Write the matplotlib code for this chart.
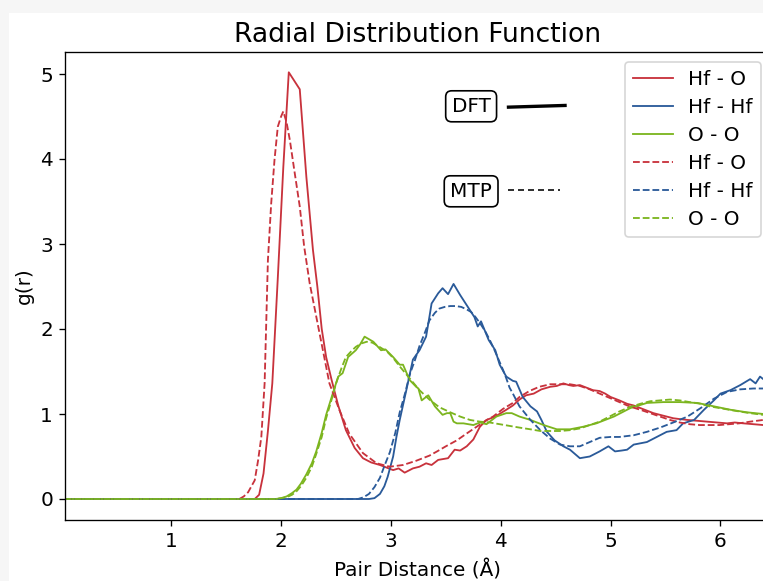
import matplotlib
matplotlib.use("Agg")
import matplotlib.pyplot as plt
from matplotlib.patches import Rectangle

# ====================================
# DATA
# ====================================

# DFT, Hf - O
r_hfo_dft = [0.03, 1.76, 1.80, 1.84, 1.88, 1.92, 1.97, 2.02, 2.07, 2.17, 2.23, 2.29,
             2.33, 2.37, 2.41, 2.46, 2.52, 2.59, 2.67, 2.745, 2.82, 2.90, 2.96, 3.02,
             3.07, 3.125, 3.20, 3.26, 3.32, 3.37, 3.43, 3.52, 3.58, 3.63, 3.69, 3.75,
             3.81, 3.87, 3.95, 4.05, 4.11, 4.17, 4.23, 4.30, 4.37, 4.45, 4.51, 4.57,
             4.62, 4.66, 4.72, 4.78, 4.84, 4.90, 4.95, 5.00, 5.08, 5.15, 5.21, 5.27,
             5.33, 5.39, 5.48, 5.57, 5.63, 5.70, 5.79, 5.88, 5.97, 6.06, 6.13, 6.21,
             6.30, 6.39, 6.47]
g_hfo_dft = [0.0, 0.0, 0.05, 0.30, 0.80, 1.36, 2.60, 3.90, 5.02, 4.82, 3.79, 2.93,
             2.50, 2.00, 1.67, 1.40, 1.10, 0.81, 0.60, 0.48, 0.43, 0.40, 0.37, 0.34,
             0.36, 0.31, 0.36, 0.38, 0.42, 0.40, 0.46, 0.48, 0.58, 0.57, 0.62, 0.70,
             0.85, 0.93, 0.97, 1.05, 1.10, 1.17, 1.22, 1.24, 1.29, 1.32, 1.33, 1.36,
             1.34, 1.33, 1.34, 1.31, 1.28, 1.27, 1.24, 1.20, 1.16, 1.12, 1.10, 1.07,
             1.04, 1.01, 0.98, 0.95, 0.94, 0.93, 0.92, 0.91, 0.90, 0.89, 0.90, 0.89,
             0.88, 0.87, 0.87]

# DFT, Hf - Hf
r_hfhf_dft = [0.03, 2.80, 2.85, 2.90, 2.94, 2.97, 3.02, 3.05, 3.08, 3.14, 3.20, 3.26,
              3.29, 3.32, 3.35, 3.37, 3.43, 3.47, 3.52, 3.57, 3.63, 3.70, 3.76, 3.79,
              3.82, 3.89, 3.95, 3.99, 4.05, 4.11, 4.14, 4.20, 4.27, 4.33, 4.37, 4.42,
              4.49, 4.57, 4.63, 4.72, 4.81, 4.90, 4.98, 5.04, 5.10, 5.15, 5.21, 5.33,
              5.42, 5.51, 5.60, 5.66, 5.76, 5.85, 5.94, 6.00, 6.09, 6.18, 6.27, 6.32,
              6.36, 6.40, 6.47]
g_hfhf_dft = [0.0, 0.0, 0.01, 0.06, 0.15, 0.26, 0.50, 0.73, 0.93, 1.28, 1.64, 1.75,
              1.83, 1.91, 2.14, 2.30, 2.42, 2.48, 2.41, 2.53, 2.40, 2.26, 2.14, 2.03,
              2.09, 1.87, 1.75, 1.58, 1.44, 1.39, 1.38, 1.20, 1.09, 1.03, 0.93, 0.79,
              0.69, 0.62, 0.58, 0.48, 0.50, 0.56, 0.62, 0.56, 0.57, 0.58, 0.64, 0.67,
              0.73, 0.79, 0.81, 0.89, 0.93, 1.05, 1.16, 1.24, 1.28, 1.34, 1.41, 1.36,
              1.44, 1.40, 1.42]

# DFT, O - O
r_oo_dft = [0.03, 1.95, 2.00, 2.05, 2.10, 2.14, 2.18, 2.23, 2.28, 2.32, 2.37, 2.41,
            2.47, 2.52, 2.56, 2.61, 2.68, 2.72, 2.76, 2.80, 2.84, 2.91, 2.95, 3.02,
            3.08, 3.11, 3.17, 3.23, 3.25, 3.28, 3.34, 3.40, 3.47, 3.51, 3.54, 3.57,
            3.60, 3.66, 3.75, 3.81, 3.87, 3.96, 4.05, 4.10, 4.17, 4.27, 4.39, 4.51,
            4.63, 4.75, 4.87, 5.03, 5.18, 5.33, 5.48, 5.63, 5.79, 5.94, 6.09, 6.24,
            6.39, 6.47]
g_oo_dft = [0.0, 0.0, 0.01, 0.03, 0.07, 0.11, 0.18, 0.29, 0.42, 0.56, 0.78, 0.99,
            1.24, 1.44, 1.48, 1.67, 1.75, 1.82, 1.91, 1.88, 1.85, 1.75, 1.76, 1.67,
            1.58, 1.58, 1.40, 1.32, 1.30, 1.16, 1.22, 1.09, 0.99, 1.01, 1.01, 0.91,
            0.89, 0.89, 0.87, 0.90, 0.88, 0.97, 1.01, 1.01, 0.97, 0.93, 0.87, 0.82,
            0.82, 0.85, 0.89, 0.97, 1.07, 1.13, 1.14, 1.14, 1.13, 1.09, 1.05, 1.02,
            1.00, 0.99]

# MTP, Hf - O
r_hfo_mtp = [0.03, 1.62, 1.66, 1.70, 1.76, 1.79, 1.82, 1.85, 1.88, 1.91, 1.94, 1.97,
             2.00, 2.02, 2.05, 2.08, 2.12, 2.17, 2.21, 2.26, 2.35, 2.44, 2.53, 2.62,
             2.745, 2.87, 2.99, 3.11, 3.23, 3.35, 3.42, 3.50, 3.60, 3.70, 3.78, 3.86,
             3.93, 4.02, 4.11, 4.17, 4.26, 4.35, 4.45, 4.54, 4.63, 4.72, 4.81, 4.90,
             4.99, 5.08, 5.17, 5.27, 5.36, 5.45, 5.54, 5.63, 5.72, 5.81, 5.90, 5.99,
             6.08, 6.17, 6.27, 6.39, 6.47]
g_hfo_mtp = [0.0, 0.0, 0.03, 0.08, 0.22, 0.45, 0.73, 1.36, 2.81, 3.48, 3.99, 4.38,
             4.50, 4.56, 4.43, 4.22, 3.87, 3.44, 2.97, 2.54, 1.95, 1.36, 1.05, 0.77,
             0.54, 0.42, 0.38, 0.40, 0.45, 0.51, 0.56, 0.62, 0.69, 0.78, 0.85, 0.92,
             0.97, 1.06, 1.13, 1.20, 1.27, 1.32, 1.35, 1.35, 1.35, 1.33, 1.29, 1.24,
             1.19, 1.14, 1.09, 1.05, 1.01, 0.97, 0.93, 0.90, 0.88, 0.87, 0.87, 0.87,
             0.88, 0.89, 0.91, 0.93, 0.94]

# MTP, Hf - Hf
r_hfhf_mtp = [0.03, 2.70, 2.75, 2.80, 2.85, 2.90, 2.95, 2.99, 3.04, 3.08, 3.13, 3.17,
              3.22, 3.26, 3.31, 3.35, 3.40, 3.44, 3.49, 3.54, 3.59, 3.64, 3.69, 3.73,
              3.77, 3.81, 3.86, 3.90, 3.94, 3.98, 4.02, 4.05, 4.08, 4.11, 4.17, 4.27,
              4.36, 4.45, 4.54, 4.63, 4.72, 4.81, 4.90, 5.00, 5.08, 5.21, 5.33, 5.45,
              5.57, 5.70, 5.82, 5.94, 6.06, 6.18, 6.30, 6.47]
g_hfhf_mtp = [0.0, 0.0, 0.02, 0.06, 0.14, 0.25, 0.42, 0.55, 0.78, 1.02, 1.25, 1.46,
              1.64, 1.80, 1.96, 2.10, 2.19, 2.24, 2.26, 2.27, 2.27, 2.26, 2.23, 2.20,
              2.14, 2.07, 1.97, 1.87, 1.76, 1.64, 1.52, 1.42, 1.31, 1.24, 1.09, 0.93,
              0.81, 0.71, 0.64, 0.62, 0.62, 0.67, 0.72, 0.73, 0.73, 0.75, 0.79, 0.84,
              0.90, 0.97, 1.07, 1.18, 1.26, 1.29, 1.30, 1.30]

# MTP, O - O
r_oo_mtp = [0.03, 1.95, 2.00, 2.05, 2.10, 2.14, 2.18, 2.23, 2.28, 2.32, 2.37, 2.41,
            2.46, 2.50, 2.55, 2.59, 2.64, 2.68, 2.73, 2.78, 2.83, 2.87, 2.92, 2.96,
            3.02, 3.08, 3.17, 3.26, 3.35, 3.44, 3.54, 3.63, 3.72, 3.81, 3.90, 3.99,
            4.08, 4.17, 4.27, 4.36, 4.45, 4.54, 4.63, 4.72, 4.81, 4.90, 4.99, 5.08,
            5.17, 5.27, 5.36, 5.45, 5.54, 5.63, 5.72, 5.82, 5.90, 5.99, 6.08, 6.17,
            6.27, 6.39, 6.47]
g_oo_mtp = [0.0, 0.0, 0.01, 0.02, 0.05, 0.09, 0.15, 0.25, 0.38, 0.53, 0.73, 0.95,
            1.17, 1.36, 1.54, 1.67, 1.74, 1.79, 1.83, 1.85, 1.84, 1.81, 1.77, 1.74,
            1.66, 1.56, 1.42, 1.28, 1.17, 1.08, 1.02, 0.97, 0.93, 0.91, 0.90, 0.88,
            0.86, 0.84, 0.82, 0.80, 0.80, 0.80, 0.81, 0.83, 0.87, 0.91, 0.97, 1.03,
            1.08, 1.12, 1.15, 1.16, 1.17, 1.16, 1.14, 1.12, 1.09, 1.07, 1.05, 1.03,
            1.01, 0.99, 0.98]

pair_labels = ["Hf - O", "Hf - Hf", "O - O"]
pair_colors = ["#c8323c", "#2a5a99", "#7cb51f"]

# ====================================
# FIGURE
# ====================================

fig = plt.figure(figsize=(763 / 120, 581 / 120), dpi=120, facecolor="#f6f6f6")
fig.patches.append(Rectangle((9 / 763, 0), 1, (581 - 13) / 581,
                             transform=fig.transFigure, facecolor="white",
                             edgecolor="none", zorder=-1))

# axes run a little past the right edge (the reference is a cropped screenshot)
ax = fig.add_axes([64.7 / 763, 1 - 520.25 / 581, (771 - 64.7) / 763, (520.25 - 51.9) / 581])

dft = [(r_hfo_dft, g_hfo_dft), (r_hfhf_dft, g_hfhf_dft), (r_oo_dft, g_oo_dft)]
mtp = [(r_hfo_mtp, g_hfo_mtp), (r_hfhf_mtp, g_hfhf_mtp), (r_oo_mtp, g_oo_mtp)]

for (r, g), lab, col in zip(dft, pair_labels, pair_colors):
    ax.plot(r, g, color=col, lw=1.1, label=lab)
for (r, g), lab, col in zip(mtp, pair_labels, pair_colors):
    ax.plot(r, g, color=col, lw=1.1, ls="--", label=lab)

ax.set_xlim(0.03, 6.46)
ax.set_ylim(-0.25, 5.26)
ax.set_xticks([1, 2, 3, 4, 5, 6])
ax.set_yticks([0, 1, 2, 3, 4, 5])
ax.tick_params(labelsize=12)

ax.set_title("Radial Distribution Function", fontsize=16)
ax.set_xlabel("Pair Distance (Å)", fontsize=12, labelpad=5)
ax.set_ylabel("g(r)", fontsize=12)

ax.legend(loc="upper right", fontsize=12, labelspacing=0.45)

# DFT / MTP key
box = dict(boxstyle="round,pad=0.3", facecolor="white", edgecolor="black")
ax.text(3.73, 4.62, "DFT", fontsize=12, ha="center", va="center", bbox=box)
ax.text(3.73, 3.62, "MTP", fontsize=12, ha="center", va="center", bbox=box)
ax.plot([4.07, 4.585], [4.61, 4.63], color="black", lw=2.0)
ax.plot([4.07, 4.54], [3.63, 3.63], color="#333333", lw=1.2, ls=(0, (3, 2)))

plt.savefig("out.png", dpi=120, facecolor=fig.get_facecolor())
plt.close()
